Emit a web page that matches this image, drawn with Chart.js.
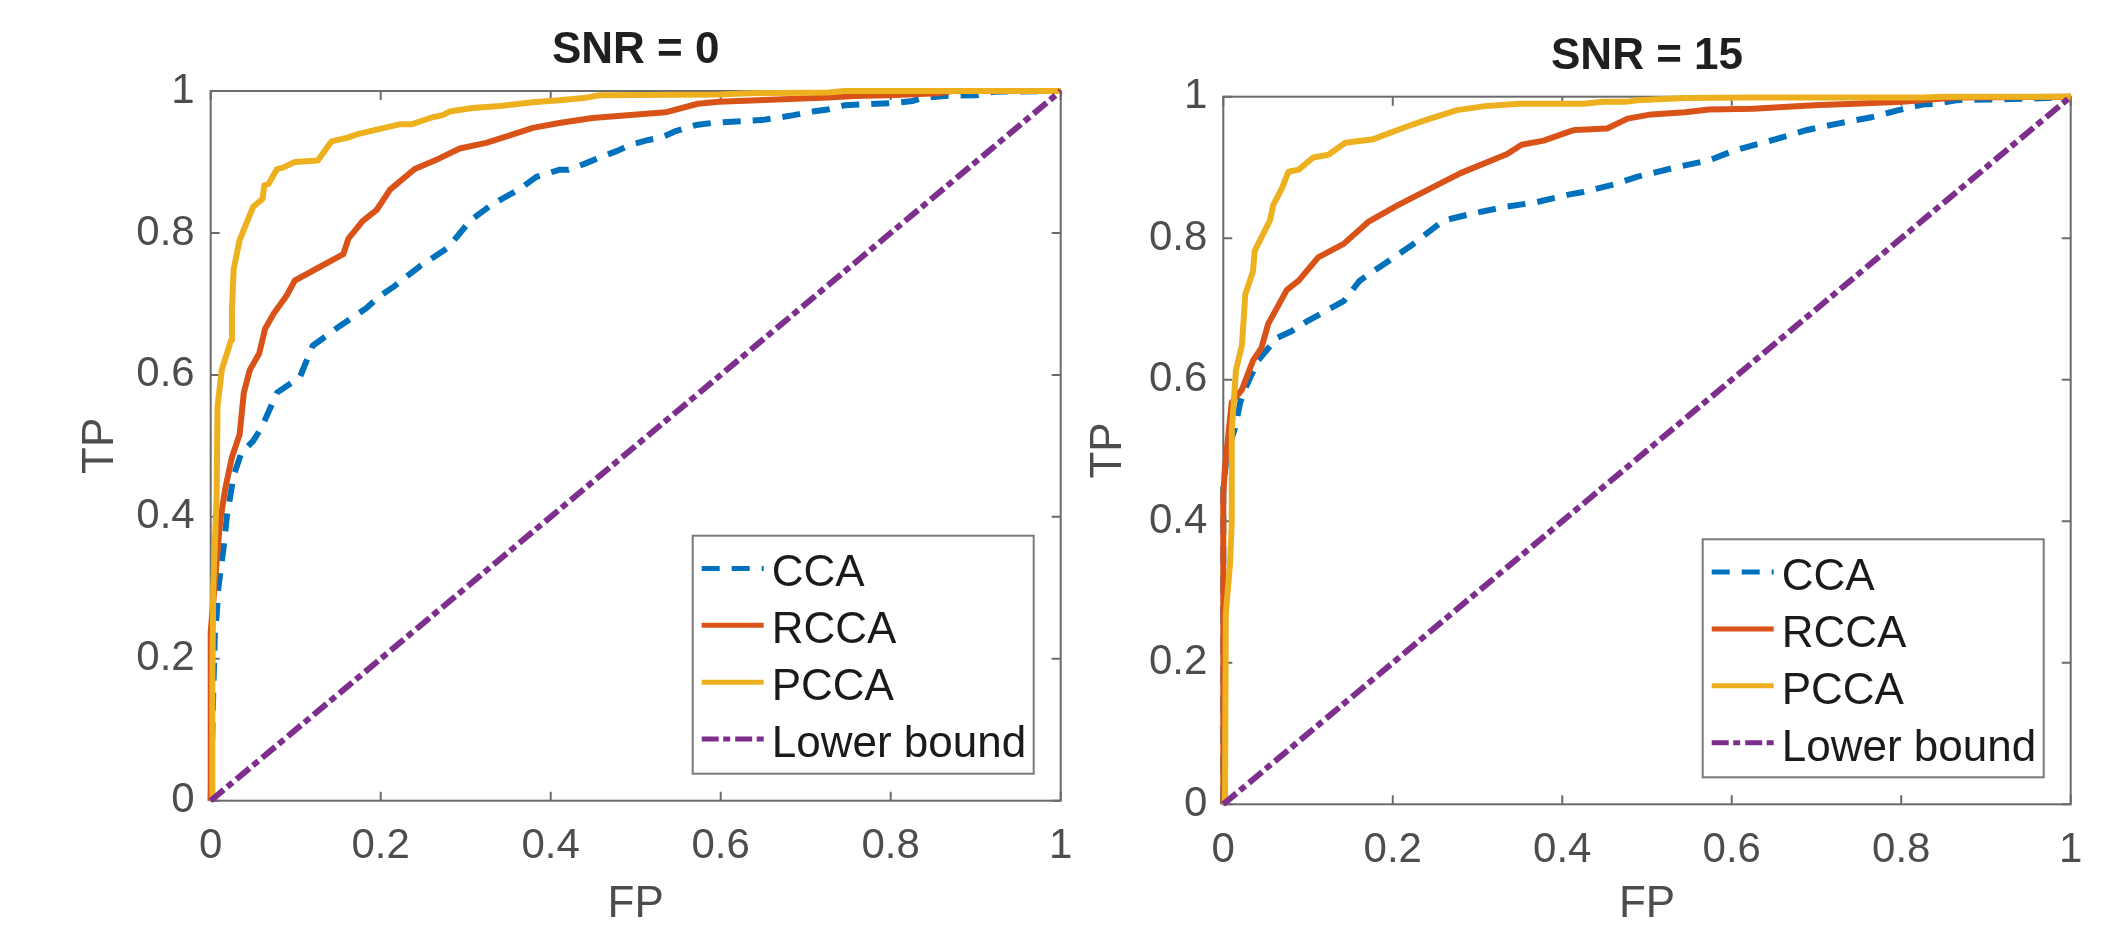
<!DOCTYPE html>
<html>
<head>
<meta charset="utf-8">
<title>ROC curves</title>
<script src="https://cdn.jsdelivr.net/npm/chart.js@4.4.0/dist/chart.umd.min.js"></script>
<style>
  html, body { margin: 0; padding: 0; background: #fff; }
  body { width: 2120px; height: 927px; position: relative; overflow: hidden; }
  canvas { position: absolute; top: 0; }
  #rocLow { left: 0; }
  #rocHigh { left: 1080px; }
</style>
</head>
<body>
<canvas id="rocLow" width="1080" height="927"></canvas>
<canvas id="rocHigh" width="1040" height="927"></canvas>
<script>
const FONT = '"Liberation Sans", Arial, Helvetica, sans-serif';

const seriesNames = ['CCA', 'RCCA', 'PCCA', 'Lower bound'];
const tickLabels = ['0', '0.2', '0.4', '0.6', '0.8', '1'];

// SNR = 0
const ccaFp0 = [0, 0.003, 0.005, 0.007, 0.009, 0.015, 0.019, 0.027, 0.036, 0.05, 0.06, 0.078, 0.105, 0.12, 0.152, 0.183, 0.199, 0.215, 0.246, 0.279, 0.305, 0.332, 0.365, 0.383, 0.41, 0.421, 0.441, 0.457, 0.479, 0.493, 0.515, 0.531, 0.546, 0.571, 0.59, 0.648, 0.67, 0.686, 0.708, 0.726, 0.746, 0.802, 0.826, 0.837, 0.863, 0.901, 0.921, 1];
const ccaTp0 = [0, 0.15, 0.24, 0.26, 0.3, 0.355, 0.4, 0.458, 0.49, 0.507, 0.526, 0.575, 0.597, 0.641, 0.669, 0.694, 0.711, 0.724, 0.753, 0.779, 0.817, 0.841, 0.863, 0.879, 0.889, 0.889, 0.898, 0.906, 0.916, 0.924, 0.931, 0.935, 0.943, 0.952, 0.955, 0.959, 0.963, 0.966, 0.971, 0.974, 0.98, 0.983, 0.986, 0.99, 0.993, 0.994, 0.999, 1];
const rccaFp0 = [0, 0, 0.005, 0.011, 0.017, 0.025, 0.034, 0.039, 0.046, 0.057, 0.064, 0.074, 0.089, 0.099, 0.156, 0.162, 0.179, 0.195, 0.211, 0.24, 0.269, 0.293, 0.324, 0.351, 0.379, 0.41, 0.449, 0.535, 0.573, 0.598, 0.666, 0.726, 0.758, 0.798, 0.857, 0.873, 1];
const rccaTp0 = [0, 0.238, 0.309, 0.393, 0.439, 0.484, 0.516, 0.575, 0.607, 0.63, 0.665, 0.686, 0.711, 0.733, 0.77, 0.792, 0.817, 0.832, 0.861, 0.89, 0.905, 0.919, 0.927, 0.937, 0.948, 0.955, 0.962, 0.97, 0.982, 0.985, 0.988, 0.991, 0.993, 0.994, 0.997, 1, 1];
const pccaFp0 = [0.002, 0.002, 0.003, 0.007, 0.008, 0.013, 0.024, 0.025, 0.027, 0.034, 0.05, 0.061, 0.063, 0.068, 0.078, 0.085, 0.099, 0.126, 0.142, 0.16, 0.175, 0.222, 0.236, 0.261, 0.273, 0.281, 0.308, 0.34, 0.379, 0.41, 0.439, 0.457, 0.598, 0.634, 0.726, 0.746, 1];
const pccaTp0 = [0, 0.17, 0.3, 0.43, 0.555, 0.607, 0.649, 0.691, 0.749, 0.79, 0.837, 0.848, 0.867, 0.869, 0.89, 0.892, 0.9, 0.902, 0.929, 0.934, 0.94, 0.953, 0.953, 0.963, 0.966, 0.971, 0.976, 0.979, 0.984, 0.987, 0.99, 0.994, 0.995, 0.997, 0.998, 1, 1];

// SNR = 15
const ccaFp15 = [0, 0, 0.005, 0.014, 0.02, 0.026, 0.041, 0.063, 0.081, 0.098, 0.142, 0.161, 0.189, 0.221, 0.26, 0.291, 0.331, 0.37, 0.409, 0.423, 0.461, 0.489, 0.537, 0.573, 0.603, 0.649, 0.689, 0.725, 0.765, 0.797, 0.825, 0.841, 0.865, 0.905, 0.945, 0.985, 1];
const ccaTp15 = [0, 0.45, 0.5, 0.532, 0.568, 0.588, 0.627, 0.659, 0.669, 0.682, 0.711, 0.74, 0.763, 0.789, 0.825, 0.834, 0.844, 0.851, 0.862, 0.865, 0.876, 0.887, 0.901, 0.91, 0.924, 0.939, 0.953, 0.962, 0.971, 0.981, 0.989, 0.99, 0.995, 0.996, 0.997, 0.999, 1];
const rccaFp15 = [0, 0, 0.002, 0.01, 0.022, 0.035, 0.045, 0.053, 0.075, 0.089, 0.112, 0.142, 0.171, 0.205, 0.244, 0.28, 0.335, 0.352, 0.378, 0.409, 0.415, 0.453, 0.477, 0.505, 0.545, 0.573, 0.625, 0.697, 0.745, 0.801, 0.845, 0.865, 1];
const rccaTp15 = [0, 0.438, 0.477, 0.568, 0.586, 0.627, 0.645, 0.679, 0.727, 0.74, 0.773, 0.792, 0.823, 0.846, 0.87, 0.892, 0.919, 0.932, 0.938, 0.951, 0.953, 0.955, 0.969, 0.975, 0.978, 0.982, 0.983, 0.988, 0.99, 0.993, 0.997, 0.999, 1];
const pccaFp15 = [0.002, 0.003, 0.008, 0.01, 0.01, 0.015, 0.022, 0.026, 0.035, 0.037, 0.055, 0.059, 0.069, 0.077, 0.089, 0.106, 0.124, 0.144, 0.177, 0.224, 0.244, 0.276, 0.311, 0.35, 0.425, 0.449, 0.477, 0.489, 0.545, 0.621, 0.825, 0.849, 1];
const pccaTp15 = [0, 0.27, 0.341, 0.4, 0.529, 0.614, 0.649, 0.721, 0.753, 0.782, 0.825, 0.847, 0.87, 0.894, 0.897, 0.914, 0.918, 0.935, 0.94, 0.961, 0.969, 0.981, 0.987, 0.99, 0.99, 0.993, 0.993, 0.995, 0.998, 0.999, 0.999, 1, 1];

const lowerFp = [0, 1];
const lowerTp = [0, 1];

const colors = ['#0072BD', '#D95319', '#EDB120', '#7E2F8E'];
const dashes = [[18, 12], [], [], [17, 4.5, 7, 5]];

function toPoints(xs, ys) {
    return xs.map((x, i) => ({ x: x, y: ys[i] }));
}

// matlab style box with inward ticks on every side
const frame = {
    id: 'frame',
    beforeDatasetsDraw(chart) {
        const { ctx, chartArea: a, scales: { x, y } } = chart;
        ctx.save();
        ctx.strokeStyle = '#6b6b6b';
        ctx.lineWidth = 2;
        ctx.strokeRect(a.left, a.top, a.right - a.left, a.bottom - a.top);
        ctx.beginPath();
        x.ticks.forEach(t => {
            const px = x.getPixelForValue(t.value);
            ctx.moveTo(px, a.bottom); ctx.lineTo(px, a.bottom - 9);
            ctx.moveTo(px, a.top); ctx.lineTo(px, a.top + 9);
        });
        y.ticks.forEach(t => {
            const py = y.getPixelForValue(t.value);
            ctx.moveTo(a.left, py); ctx.lineTo(a.left + 9, py);
            ctx.moveTo(a.right, py); ctx.lineTo(a.right - 9, py);
        });
        ctx.stroke();
        ctx.restore();
    }
};

// legend in a framed box at the lower right of the axes
const boxLegend = {
    id: 'boxLegend',
    afterDatasetsDraw(chart) {
        const { ctx, chartArea: a } = chart;
        const w = 341, h = 238;
        const left = a.right - 27 - w, top = a.bottom - 27 - h;
        ctx.save();
        ctx.fillStyle = '#ffffff';
        ctx.fillRect(left, top, w, h);
        ctx.strokeStyle = '#7a7a7a';
        ctx.lineWidth = 2;
        ctx.strokeRect(left, top, w, h);
        ctx.font = '44px ' + FONT;
        ctx.textBaseline = 'alphabetic';
        chart.data.datasets.forEach((ds, i) => {
            const cy = top + 34.7 + i * 56.9;
            ctx.strokeStyle = ds.borderColor;
            ctx.lineWidth = 5;
            ctx.setLineDash(ds.borderDash);
            ctx.beginPath();
            ctx.moveTo(left + 9, cy - 2);
            ctx.lineTo(left + 71, cy - 2);
            ctx.stroke();
            ctx.setLineDash([]);
            ctx.fillStyle = '#1a1a1a';
            ctx.fillText(ds.label, left + 79, cy + 15.8);
        });
        ctx.restore();
    }
};

function makeRoc(id, title, fps, tps, g) {
    const datasets = seriesNames.map((name, i) => ({
        label: name,
        data: toPoints(fps[i], tps[i]),
        borderColor: colors[i],
        borderWidth: 6,
        borderDash: dashes[i],
        borderJoinStyle: 'round',
        pointRadius: 0,
        tension: 0,
        fill: false,
        clip: false,
        order: seriesNames.length - i
    }));
    const axisFont = { family: FONT, size: 42 };
    return new Chart(document.getElementById(id), {
        type: 'line',
        data: { datasets: datasets },
        plugins: [frame, boxLegend],
        options: {
            responsive: false,
            animation: false,
            layout: { padding: { left: 0, right: g.padRight, top: 0, bottom: 0 } },
            plugins: {
                legend: { display: false },
                tooltip: { enabled: false },
                title: {
                    display: true,
                    fullSize: false,   // centre over the axes, not the canvas
                    text: title,
                    color: '#1f1f1f',
                    font: { family: FONT, size: 44, weight: 'bold', lineHeight: 1.2 },
                    padding: { top: g.titleTop, bottom: g.titleBottom }
                }
            },
            scales: {
                x: {
                    type: 'linear',
                    min: 0,
                    max: 1,
                    ticks: {
                        stepSize: 0.2,
                        padding: 21,
                        color: '#4d4d4d',
                        font: axisFont,
                        maxRotation: 0,
                        autoSkip: false,
                        callback: (v, i) => tickLabels[i]
                    },
                    grid: { display: false, drawTicks: false },
                    border: { display: false },
                    title: {
                        display: true,
                        text: 'FP',
                        color: '#4d4d4d',
                        font: { family: FONT, size: 44, lineHeight: 1 },
                        padding: { top: 0, bottom: 0 }
                    },
                    afterFit: s => { s.height = g.xHeight; s.paddingLeft = 0; s.paddingRight = 0; }
                },
                y: {
                    type: 'linear',
                    min: 0,
                    max: 1,
                    ticks: {
                        stepSize: 0.2,
                        padding: 16,
                        color: '#4d4d4d',
                        font: axisFont,
                        autoSkip: false,
                        callback: (v, i) => tickLabels[i]
                    },
                    grid: { display: false, drawTicks: false },
                    border: { display: false },
                    title: {
                        display: true,
                        text: 'TP',
                        color: '#4d4d4d',
                        font: { family: FONT, size: 44, lineHeight: 1.2 },
                        padding: { top: g.yTitlePad, bottom: 0 }
                    },
                    afterFit: s => { s.width = g.yWidth; s.paddingTop = 0; s.paddingBottom = 0; }
                }
            }
        }
    });
}

makeRoc('rocLow', 'SNR = 0',
    [ccaFp0, rccaFp0, pccaFp0, lowerFp],
    [ccaTp0, rccaTp0, pccaTp0, lowerTp],
    { padRight: 19.3, yWidth: 210.7, xHeight: 126.3, titleTop: 24.6, titleBottom: 13.6, yTitlePad: 74.6 });

makeRoc('rocHigh', 'SNR = 15',
    [ccaFp15, rccaFp15, pccaFp15, lowerFp],
    [ccaTp15, rccaTp15, pccaTp15, lowerTp],
    { padRight: 49.3, yWidth: 143.3, xHeight: 122.7, titleTop: 30.3, titleBottom: 13.6, yTitlePad: 2.6 });
</script>
</body>
</html>
